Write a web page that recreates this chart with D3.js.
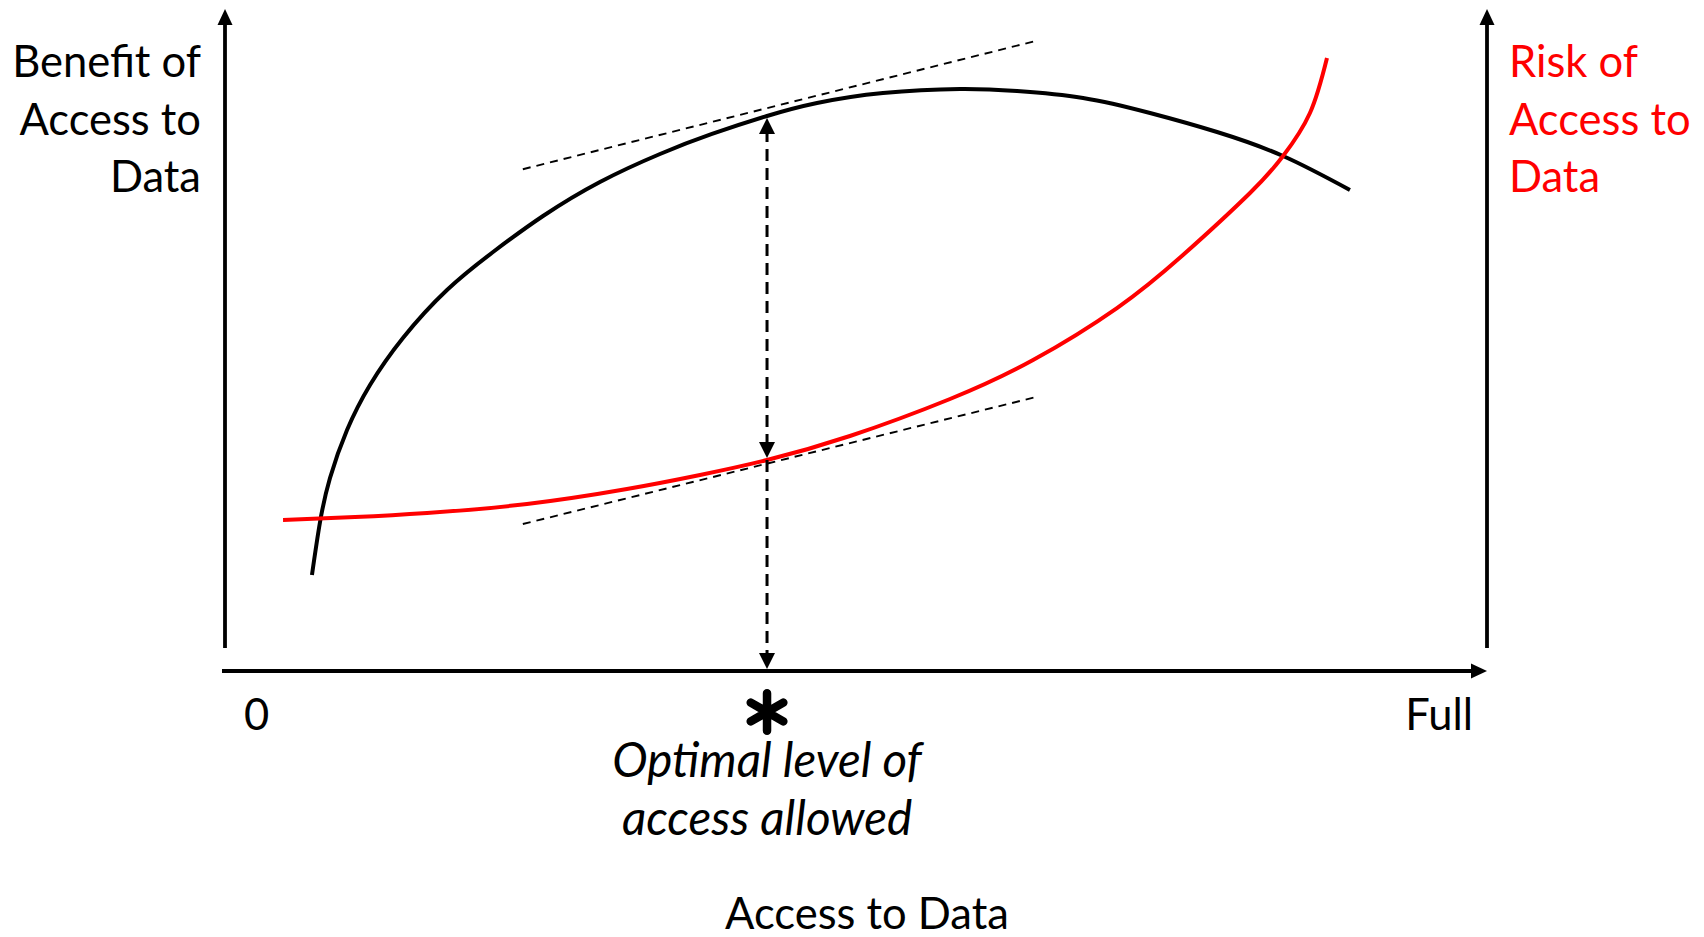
<!DOCTYPE html>
<html>
<head>
<meta charset="utf-8">
<script src="https://cdn.jsdelivr.net/npm/d3@7"></script>
<style>
  body { margin: 0; background: #fff; }
  text { font-family: Lato, "Open Sans", sans-serif; }
</style>
</head>
<body>
<div id="chart"></div>
<script>
// benefit curve (black) and risk curve (red), x = level of access, y = amount
var benefitX = [6.89, 7.53, 8.32, 9.67, 11.49, 14.10, 17.59, 21.24, 25.20, 29.71, 34.47, 38.59, 42.95, 46.91, 52.14, 58.24, 62.76, 67.99, 73.30, 78.61, 83.84, 89.14];
var benefitY = [14.50, 22.51, 29.15, 36.40, 43.20, 50.30, 57.55, 63.29, 68.73, 73.87, 78.10, 81.12, 83.84, 85.80, 87.31, 87.92, 87.61, 86.56, 84.29, 81.42, 77.79, 72.66];
var riskX = [4.60, 10.30, 16.01, 23.93, 31.85, 37.64, 42.95, 49.52, 57.45, 64.03, 70.68, 75.91, 81.22, 83.84, 85.97, 87.32];
var riskY = [22.81, 23.26, 23.87, 25.23, 27.49, 29.61, 31.87, 35.50, 41.09, 46.98, 54.83, 62.84, 72.21, 77.79, 84.29, 92.60];

// tangent lines at the optimum
var tangentX = [23.6, 64.3];
var benefitTangentY = [75.8, 95.2];
var riskTangentY = [22.2, 41.4];

var optimalX = 42.95;
var optimalBenefit = 83.84;
var optimalRisk = 31.87;

var xLabels = ["0", "Full"];
var leftTitle = ["Benefit of", "Access to", "Data"];
var rightTitle = ["Risk of", "Access to", "Data"];
var noteLines = ["Optimal level of", "access allowed"];
var xTitle = "Access to Data";

// set the dimensions and margins of the graph
var margin = {top: 9, right: 217, bottom: 266, left: 225},
    width = 1704 - margin.left - margin.right,
    height = 937 - margin.top - margin.bottom;

var svg = d3.select("#chart")
  .append("svg")
    .attr("width", 1704)
    .attr("height", 937)
  .append("g")
    .attr("transform", "translate(" + margin.left + "," + margin.top + ")");

var x = d3.scaleLinear().domain([0, 100]).range([0, width]);
var y = d3.scaleLinear().domain([0, 100]).range([height, 0]);

var defs = svg.append("defs");
defs.append("marker")
    .attr("id", "axisHead")
    .attr("viewBox", "0 0 16 16")
    .attr("refX", 6).attr("refY", 8)
    .attr("markerWidth", 16).attr("markerHeight", 16)
    .attr("markerUnits", "userSpaceOnUse")
    .attr("orient", "auto")
  .append("path")
    .attr("d", "M0,0.5L16,8L0,15.5Z")
    .attr("fill", "#000");
defs.append("marker")
    .attr("id", "dashHead")
    .attr("viewBox", "0 0 16 16")
    .attr("refX", 4).attr("refY", 8)
    .attr("markerWidth", 16).attr("markerHeight", 16)
    .attr("markerUnits", "userSpaceOnUse")
    .attr("orient", "auto-start-reverse")
  .append("path")
    .attr("d", "M0,0L16,8L0,16Z")
    .attr("fill", "#000");

// axes: two vertical arrows and one horizontal arrow
var axisBottomY = height - 23;
svg.append("line")
    .attr("x1", 0).attr("y1", axisBottomY)
    .attr("x2", 0).attr("y2", 10)
    .attr("stroke", "#000").attr("stroke-width", 3.8)
    .attr("marker-end", "url(#axisHead)");
svg.append("line")
    .attr("x1", width).attr("y1", axisBottomY)
    .attr("x2", width).attr("y2", 10)
    .attr("stroke", "#000").attr("stroke-width", 3.8)
    .attr("marker-end", "url(#axisHead)");
svg.append("line")
    .attr("x1", -3).attr("y1", height)
    .attr("x2", width - 10).attr("y2", height)
    .attr("stroke", "#000").attr("stroke-width", 3.8)
    .attr("marker-end", "url(#axisHead)");

// tangent lines
[benefitTangentY, riskTangentY].forEach(function(ty) {
  svg.append("line")
    .attr("x1", x(tangentX[0])).attr("y1", y(ty[0]))
    .attr("x2", x(tangentX[1])).attr("y2", y(ty[1]))
    .attr("stroke", "#000").attr("stroke-width", 1.9)
    .attr("stroke-dasharray", "8,6");
});

// curves
var line = d3.line()
  .x(function(d) { return x(d[0]); })
  .y(function(d) { return y(d[1]); })
  .curve(d3.curveNatural);

svg.append("path")
  .datum(d3.zip(benefitX, benefitY))
  .attr("d", line)
  .attr("fill", "none")
  .attr("stroke", "#000")
  .attr("stroke-width", 4);

svg.append("path")
  .datum(d3.zip(riskX, riskY))
  .attr("d", line)
  .attr("fill", "none")
  .attr("stroke", "#ff0000")
  .attr("stroke-width", 4);

// dashed arrows: between curves, and from risk curve down to the axis
svg.append("line")
    .attr("x1", x(optimalX)).attr("y1", y(optimalBenefit) + 14)
    .attr("x2", x(optimalX)).attr("y2", y(optimalRisk) - 14)
    .attr("stroke", "#000").attr("stroke-width", 3)
    .attr("stroke-dasharray", "12,7")
    .attr("marker-start", "url(#dashHead)")
    .attr("marker-end", "url(#dashHead)");
svg.append("line")
    .attr("x1", x(optimalX)).attr("y1", y(optimalRisk))
    .attr("x2", x(optimalX)).attr("y2", height - 14)
    .attr("stroke", "#000").attr("stroke-width", 3)
    .attr("stroke-dasharray", "12,7")
    .attr("marker-end", "url(#dashHead)");

// asterisk under the optimum
svg.append("path")
  .attr("transform", "translate(" + x(optimalX) + "," + (height + 41) + ")")
  .attr("d", d3.symbol(d3.symbolAsterisk, 1000)())
  .attr("stroke", "#000")
  .attr("stroke-width", 8.5)
  .attr("stroke-linecap", "round")
  .attr("fill", "none");

// text
var fs = 43.5;
svg.selectAll(".lt")
  .data(leftTitle)
  .enter().append("text")
    .attr("x", -24)
    .attr("y", function(d, i) { return 68 + i * 57.5; })
    .attr("text-anchor", "end")
    .style("font-size", fs + "px")
    .text(function(d) { return d; });

svg.selectAll(".rt")
  .data(rightTitle)
  .enter().append("text")
    .attr("x", width + 22)
    .attr("y", function(d, i) { return 68 + i * 57.5; })
    .attr("fill", "#ff0000")
    .style("font-size", fs + "px")
    .text(function(d) { return d; });

svg.append("text")
  .attr("x", x(0) + 19).attr("y", height + 59)
  .style("font-size", fs + "px")
  .text(xLabels[0]);
svg.append("text")
  .attr("x", width - 14).attr("y", height + 59)
  .attr("text-anchor", "end")
  .style("font-size", fs + "px")
  .text(xLabels[1]);

svg.selectAll(".note")
  .data(noteLines)
  .enter().append("text")
    .attr("x", x(optimalX))
    .attr("y", function(d, i) { return height + 106 + i * 58; })
    .attr("text-anchor", "middle")
    .style("font-size", "47.5px")
    .style("font-style", "italic")
    .text(function(d) { return d; });

svg.append("text")
  .attr("x", 642).attr("y", height + 258)
  .attr("text-anchor", "middle")
  .style("font-size", fs + "px")
  .text(xTitle);
</script>
</body>
</html>
